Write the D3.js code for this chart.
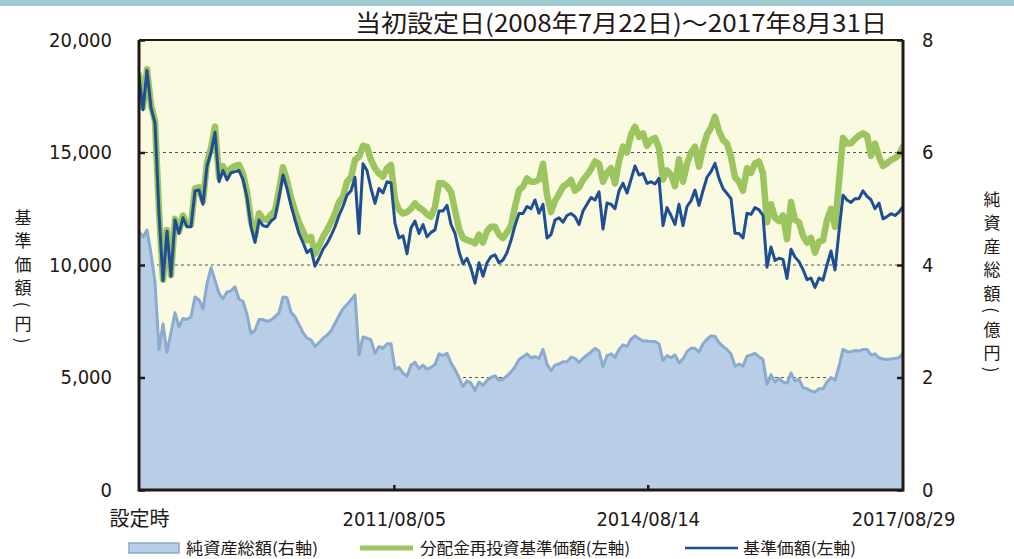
<!DOCTYPE html>
<html>
<head>
<meta charset="utf-8">
<script src="https://cdn.jsdelivr.net/npm/d3@7"></script>
<style>
  body { margin: 0; background: #ffffff; }
  svg { display: block; }
</style>
</head>
<body>
<svg id="chart" width="1014" height="559"></svg>
<script>
// 基準価額（円）
const navSeries = [
  18400,16900,18650,17000,16300,12300,9300,11500,9500,12000,11400,12100,11700,11700,13300,13330,
  12700,14400,15000,15900,13700,14200,13780,14100,14150,14200,13800,13000,11700,11000,12000,11750,
  11700,11950,12100,13000,14000,13400,12650,12000,11400,11000,10550,10700,9950,10300,10700,10960,
  11300,11700,12200,12600,13100,13300,13900,11400,14500,14200,13400,12740,13400,13200,13700,13650,
  11850,11200,11300,10500,11650,11950,11400,11800,11250,11450,11560,12400,12400,12650,11800,11410,
  10600,10050,10300,9850,9190,10100,9500,10100,10370,10450,10100,10220,10550,11100,11750,12290,
  12290,12600,12500,12890,12300,12700,11200,11350,12000,12100,11900,12200,12290,12150,11800,12400,
  12700,13000,12890,13250,11600,12750,12700,12500,13300,13630,13200,13800,14400,14000,14070,13630,
  13700,13600,13850,11750,12550,12200,11800,12700,11750,12600,12850,13330,12650,13300,13900,14150,
  14520,13850,13400,13180,12950,11410,11400,11200,12300,12250,12550,12450,12200,9900,10800,10200,
  10300,10250,9400,10700,10350,10150,9800,9350,9420,9000,9420,9330,10000,10620,9780,11500,
  13100,12890,12780,12950,12950,13300,13050,12900,12500,12750,12050,12150,12280,12200,12350,12600
];

// 分配金再投資基準価額（円）
const reinvestSeries = [
  18450,17000,18700,17100,16400,12400,9350,11550,9550,12050,11500,12200,11800,11800,13400,13450,
  12850,14550,15200,16150,13900,14400,14000,14300,14400,14450,14050,13250,11950,11300,12300,12050,
  12000,12250,12400,13300,14350,13750,13000,12400,11900,11500,11100,11250,10500,10850,11250,11550,
  11900,12300,12800,13040,13700,13900,14670,14810,15300,15250,14670,14300,14070,13930,14300,14450,
  12900,12450,12290,12350,12500,12740,12550,12440,12250,12150,12590,13630,13630,13500,13250,12440,
  11600,11200,11110,11050,10960,11350,11000,11500,11700,11700,11350,11200,11450,11750,12590,13330,
  13480,13850,13700,13700,13800,14500,13100,12350,12850,13150,13480,13600,13780,13300,13450,13780,
  14000,14250,14600,14500,13700,14100,14300,13630,14600,15260,15000,15800,16150,15700,15850,15300,
  15560,15650,15200,13800,14200,14000,13500,14700,13700,14500,15000,15260,14370,15200,15800,16100,
  16590,15950,15560,15400,14800,13900,13700,13300,14300,14100,14520,14600,14070,11900,12700,12100,
  11950,12200,11150,12800,12000,11900,11300,11000,11200,10550,11050,11100,12000,12500,11700,13700,
  15650,15400,15410,15600,15750,15850,15750,14850,15400,14800,14400,14520,14670,14750,14900,15260
];

// 純資産総額（億円）
const netAssetSeries = [
  4.6,4.5,4.62,4.2,3.7,2.5,2.95,2.45,2.8,3.15,2.9,3.05,3.03,3.08,3.43,3.38,
  3.22,3.67,3.95,3.73,3.5,3.4,3.52,3.54,3.61,3.39,3.35,3.12,2.78,2.84,3.03,3.03,
  3.0,3.02,3.08,3.15,3.43,3.42,3.16,3.08,2.94,2.8,2.7,2.67,2.55,2.62,2.7,2.75,
  2.83,2.96,3.1,3.22,3.3,3.38,3.47,2.4,2.72,2.7,2.67,2.43,2.55,2.52,2.6,2.6,
  2.15,2.18,2.08,2.02,2.22,2.27,2.16,2.22,2.15,2.18,2.23,2.42,2.39,2.43,2.26,2.14,
  2.0,1.84,1.94,1.9,1.77,1.92,1.86,1.95,2.0,2.03,1.95,1.97,2.03,2.1,2.19,2.32,
  2.37,2.42,2.35,2.37,2.34,2.5,2.24,2.12,2.22,2.24,2.28,2.28,2.36,2.34,2.27,2.34,
  2.4,2.45,2.52,2.47,2.19,2.39,2.42,2.36,2.5,2.58,2.55,2.68,2.74,2.69,2.65,2.65,
  2.64,2.64,2.6,2.3,2.39,2.35,2.4,2.26,2.33,2.46,2.52,2.52,2.45,2.6,2.68,2.74,
  2.73,2.62,2.55,2.5,2.42,2.2,2.24,2.2,2.38,2.4,2.43,2.37,2.32,1.88,2.05,1.92,
  1.98,1.92,1.9,2.08,1.94,1.97,1.82,1.8,1.76,1.74,1.8,1.8,1.92,2.0,1.95,2.2,
  2.5,2.46,2.46,2.48,2.47,2.5,2.5,2.4,2.42,2.35,2.33,2.32,2.33,2.34,2.35,2.43
];

const firstDate = "2008-07-22";
const lastDate = "2017-08-29";
const leftTicks = [0, 5000, 10000, 15000, 20000];
const rightTicks = [0, 2, 4, 6, 8];
const gridTicks = [5000, 10000, 15000];
const xTickDates = ["2008-07-22", "2011-08-05", "2014-08-14", "2017-08-29"];
const xTickLabels = ["設定時", "2011/08/05", "2014/08/14", "2017/08/29"];
const titleText = "当初設定日(2008年7月22日)～2017年8月31日";
const leftTitle = ["基", "準", "価", "額", "(", "円", ")"];
const rightTitle = ["純", "資", "産", "総", "額", "(", "億", "円", ")"];
const legendLabels = ["純資産総額(右軸)", "分配金再投資基準価額(左軸)", "基準価額(左軸)"];

const colors = {
  band: "#9ec9cf",
  plotBg: "#fafae1",
  areaFill: "#b8cee6",
  areaLine: "#8aaacf",
  reinvest: "#9cc45f",
  nav: "#1f4e94",
  frame: "#231815",
  grid: "#555555",
  text: "#231815"
};

const W = 1014, H = 559;
const plot = { left: 139, right: 903, top: 40, bottom: 490 };
const numFont = "'DejaVu Sans Condensed', 'DejaVu Sans', 'Noto Sans CJK JP', sans-serif";
const cjkFont = "'Noto Sans CJK JP', 'DejaVu Sans', sans-serif";

const parse = d3.timeParse("%Y-%m-%d");
const t0 = parse(firstDate), t1 = parse(lastDate);
const n = navSeries.length;
const dates = d3.range(n).map(i => new Date(+t0 + (t1 - t0) * i / (n - 1)));

const x = d3.scaleTime().domain([t0, t1]).range([plot.left, plot.right]);
const yL = d3.scaleLinear().domain([0, 20000]).range([plot.bottom, plot.top]);
const yR = d3.scaleLinear().domain([0, 8]).range([plot.bottom, plot.top]);

const svg = d3.select("#chart");

// top colour band
svg.append("rect").attr("x", 0).attr("y", 0).attr("width", W).attr("height", 6)
  .attr("fill", colors.band);

// title
svg.append("text")
  .attr("x", 355).attr("y", 32)
  .attr("textLength", 532).attr("lengthAdjust", "spacingAndGlyphs")
  .attr("font-family", cjkFont).attr("font-size", 24)
  .attr("fill", colors.text)
  .text(titleText);

// plot background
svg.append("rect")
  .attr("x", plot.left).attr("y", plot.top)
  .attr("width", plot.right - plot.left).attr("height", plot.bottom - plot.top)
  .attr("fill", colors.plotBg);

svg.append("clipPath").attr("id", "plotClip")
  .append("rect")
  .attr("x", plot.left).attr("y", plot.top)
  .attr("width", plot.right - plot.left).attr("height", plot.bottom - plot.top);

// dashed gridlines
svg.append("g").selectAll("line").data(gridTicks).join("line")
  .attr("x1", plot.left).attr("x2", plot.right)
  .attr("y1", d => yL(d)).attr("y2", d => yL(d))
  .attr("stroke", colors.grid).attr("stroke-width", 1)
  .attr("stroke-dasharray", "3,3");

const g = svg.append("g").attr("clip-path", "url(#plotClip)");

// net assets area (right axis)
const areaGen = d3.area()
  .x((d, i) => x(dates[i]))
  .y0(yR(0))
  .y1(d => yR(d));
g.append("path").datum(netAssetSeries)
  .attr("d", areaGen)
  .attr("fill", colors.areaFill);

const areaEdge = d3.line().x((d, i) => x(dates[i])).y(d => yR(d));
g.append("path").datum(netAssetSeries)
  .attr("d", areaEdge)
  .attr("fill", "none")
  .attr("stroke", colors.areaLine)
  .attr("stroke-width", 3)
  .attr("stroke-linejoin", "round");

// price lines (left axis)
const priceLine = d3.line().x((d, i) => x(dates[i])).y(d => yL(d));
g.append("path").datum(reinvestSeries)
  .attr("d", priceLine)
  .attr("fill", "none")
  .attr("stroke", colors.reinvest)
  .attr("stroke-width", 6.5)
  .attr("stroke-linejoin", "round")
  .attr("stroke-linecap", "round");

g.append("path").datum(navSeries)
  .attr("d", priceLine)
  .attr("fill", "none")
  .attr("stroke", colors.nav)
  .attr("stroke-width", 3)
  .attr("stroke-linejoin", "round")
  .attr("stroke-linecap", "round");

// frame
svg.append("line").attr("x1", plot.left).attr("x2", plot.right)
  .attr("y1", plot.top).attr("y2", plot.top)
  .attr("stroke", colors.frame).attr("stroke-width", 2);
svg.append("path")
  .attr("d", `M${plot.left},${plot.top} V${plot.bottom} H${plot.right} V${plot.top}`)
  .attr("fill", "none").attr("stroke", colors.frame).attr("stroke-width", 3);

// axes
function styleAxis(sel, anchor) {
  sel.select(".domain").remove();
  sel.selectAll(".tick line").attr("stroke", colors.frame).attr("stroke-width", 2.5);
  sel.selectAll(".tick text")
    .attr("font-family", numFont).attr("font-size", 20)
    .attr("fill", colors.text);
  if (anchor) sel.selectAll(".tick text").attr("text-anchor", anchor);
}

svg.append("g").attr("transform", `translate(${plot.left},0)`)
  .call(d3.axisLeft(yL).tickValues(leftTicks).tickFormat(d3.format(","))
    .tickSize(-6).tickPadding(27))
  .call(s => styleAxis(s, "end"));

svg.append("g").attr("transform", `translate(${plot.right},0)`)
  .call(d3.axisRight(yR).tickValues(rightTicks).tickFormat(d3.format("d"))
    .tickSize(-6).tickPadding(19))
  .call(s => styleAxis(s, "start"));

const xTicks = xTickDates.map(parse);
svg.append("g").attr("transform", `translate(0,${plot.bottom})`)
  .call(d3.axisBottom(x).tickValues(xTicks).tickFormat((d, i) => xTickLabels[i])
    .tickSize(-5).tickPadding(22))
  .call(s => styleAxis(s, "middle"))
  .call(s => s.selectAll(".tick line").attr("display", (d, i) => (i === 0 || i === xTicks.length - 1) ? "none" : null));

// vertical axis titles, one glyph per row; parentheses turned sideways
function verticalTitle(chars, cx, startY) {
  let yPos = startY;
  const grp = svg.append("g");
  chars.forEach((c, i) => {
    const isParen = c === "(" || c === ")";
    if (i > 0) {
      const prevParen = chars[i - 1] === "(" || chars[i - 1] === ")";
      yPos += (isParen || prevParen) ? 18 : 23.5;
    }
    const t = grp.append("text")
      .attr("font-family", cjkFont).attr("font-size", 17)
      .attr("fill", colors.text)
      .attr("text-anchor", "middle")
      .attr("dominant-baseline", "central")
      .text(c);
    if (isParen) {
      t.attr("transform", `translate(${cx},${yPos}) rotate(90)`);
    } else {
      t.attr("x", cx).attr("y", yPos);
    }
  });
}
verticalTitle(leftTitle, 23, 216);
verticalTitle(rightTitle, 992, 198);

// legend
const legend = svg.append("g");
const legendText = (label, lx, width) => legend.append("text")
  .attr("x", lx).attr("y", 554)
  .attr("textLength", width).attr("lengthAdjust", "spacingAndGlyphs")
  .attr("font-family", cjkFont).attr("font-size", 16).attr("fill", colors.text)
  .text(label);

legend.append("rect").attr("x", 129).attr("y", 543).attr("width", 50).attr("height", 10)
  .attr("fill", colors.areaFill).attr("stroke", colors.areaLine).attr("stroke-width", 1.5);
legendText(legendLabels[0], 186, 132);

legend.append("line").attr("x1", 360).attr("x2", 413).attr("y1", 548).attr("y2", 548)
  .attr("stroke", colors.reinvest).attr("stroke-width", 5);
legendText(legendLabels[1], 420, 210);

legend.append("line").attr("x1", 685).attr("x2", 738).attr("y1", 548).attr("y2", 548)
  .attr("stroke", colors.nav).attr("stroke-width", 2.5);
legendText(legendLabels[2], 743, 113);
</script>
</body>
</html>
